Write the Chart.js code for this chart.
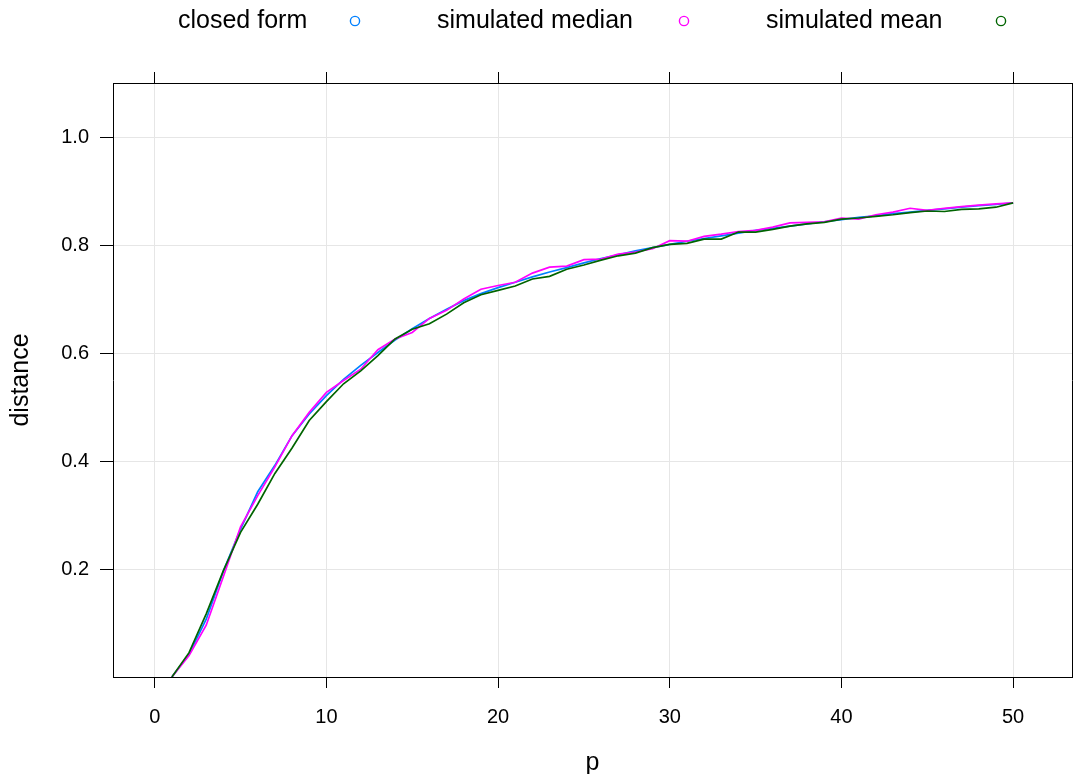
<!DOCTYPE html>
<html>
<head>
<meta charset="utf-8">
<script src="https://cdn.jsdelivr.net/npm/chart.js@4/dist/chart.umd.min.js"></script>
<style>
  html, body { margin: 0; padding: 0; background: #ffffff; overflow: hidden; }
  #wrap { width: 1073px; height: 774px; }
</style>
</head>
<body>
<div id="wrap"><canvas id="c" width="1073" height="774"></canvas></div>
<script>
// number of dimensions
const p = [1,2,3,4,5,6,7,8,9,10,11,12,13,14,15,16,17,18,19,20,
           21,22,23,24,25,26,27,28,29,30,31,32,33,34,35,36,37,38,39,40,
           41,42,43,44,45,46,47,48,49,50];

const closedForm = [0.000,0.042,0.107,0.196,0.274,0.343,0.392,0.447,0.487,0.521,
                    0.551,0.577,0.601,0.624,0.645,0.664,0.681,0.697,0.710,0.721,
                    0.731,0.741,0.750,0.758,0.767,0.775,0.782,0.789,0.795,0.801,
                    0.807,0.812,0.817,0.822,0.827,0.831,0.835,0.839,0.843,0.847,
                    0.851,0.854,0.858,0.861,0.864,0.867,0.870,0.873,0.875,0.878];

const simMedian = [0.000,0.040,0.096,0.186,0.278,0.336,0.389,0.447,0.490,0.527,
                   0.549,0.570,0.606,0.626,0.638,0.664,0.679,0.700,0.718,0.725,
                   0.731,0.748,0.759,0.761,0.773,0.774,0.783,0.787,0.793,0.808,
                   0.807,0.816,0.820,0.825,0.827,0.833,0.841,0.842,0.843,0.850,
                   0.848,0.856,0.861,0.868,0.864,0.868,0.871,0.874,0.876,0.878];

const simMean = [0.000,0.045,0.117,0.197,0.268,0.320,0.377,0.424,0.475,0.510,
                 0.543,0.567,0.595,0.626,0.644,0.654,0.672,0.693,0.708,0.716,
                 0.724,0.737,0.742,0.755,0.763,0.772,0.780,0.785,0.795,0.801,
                 0.803,0.811,0.811,0.824,0.824,0.829,0.835,0.839,0.842,0.848,
                 0.850,0.853,0.856,0.860,0.863,0.862,0.866,0.867,0.870,0.878];

const seriesNames  = ['closed form', 'simulated median', 'simulated mean'];
const seriesValues = [closedForm, simMedian, simMean];
const seriesColors = ['#0080ff', '#ff00ff', '#006400'];

const xTicks = [0, 10, 20, 30, 40, 50];
const yTicks = [0.2, 0.4, 0.6, 0.8, 1.0];
const xLimits = [-2.43, 53.43];
const yLimits = [0, 1.1];

const FONT = '"Liberation Sans", Arial, Helvetica, sans-serif';

const toPoints = vals => vals.map((v, i) => ({ x: p[i], y: v }));
const useTicks = vals => scale => { scale.ticks = vals.map(v => ({ value: v })); };

// key across the top: label text followed by an open circle
const keyPlugin = {
  id: 'topKey',
  afterDraw(chart) {
    const ctx = chart.ctx;
    const textX = [178, 437, 766];
    const symX = [355, 684, 1001];
    const y = 21;
    ctx.save();
    ctx.font = '25px ' + FONT;
    ctx.fillStyle = '#000000';
    ctx.textAlign = 'left';
    ctx.textBaseline = 'middle';
    seriesNames.forEach((name, i) => {
      ctx.fillText(name, textX[i], y);
      ctx.beginPath();
      ctx.arc(symX[i], y, 4.6, 0, Math.PI * 2);
      ctx.strokeStyle = seriesColors[i];
      ctx.lineWidth = 1.4;
      ctx.stroke();
    });
    ctx.restore();
  }
};

const frameSide = (position, size, tickLen) => ({
  type: 'linear',
  position: position,
  display: true,
  grid: { drawOnChartArea: false, drawTicks: true, tickLength: tickLen, tickColor: '#000000', tickWidth: 1 },
  border: { display: true, color: '#000000', width: 1 },
  ticks: { display: false },
  afterFit: s => { if (s.isHorizontal()) s.height = size; else s.width = size; }
});

const datasets = seriesNames.map((name, i) => ({
  label: name,
  data: toPoints(seriesValues[i]),
  borderColor: seriesColors[i],
  backgroundColor: seriesColors[i],
  borderWidth: 1.7,
  pointRadius: 0,
  tension: 0,
  fill: false,
  order: seriesNames.length - i,
  xAxisID: 'x',
  yAxisID: 'y'
}));

new Chart(document.getElementById('c'), {
  type: 'line',
  data: { datasets },
  plugins: [keyPlugin],
  options: {
    responsive: false,
    animation: false,
    devicePixelRatio: 1,
    layout: { padding: 0 },
    plugins: { legend: { display: false }, tooltip: { enabled: false } },
    scales: {
      x: {
        type: 'linear', position: 'bottom',
        min: xLimits[0], max: xLimits[1],
        afterBuildTicks: useTicks(xTicks),
        afterFit: s => { s.height = 97; },
        grid: { color: '#e6e6e6', lineWidth: 1, drawTicks: true, tickLength: 11, tickColor: '#000000', tickWidth: 1 },
        border: { display: true, color: '#000000', width: 1 },
        ticks: { color: '#000000', font: { family: FONT, size: 20 }, padding: 17, maxRotation: 0, autoSkip: false,
                 callback: v => String(v) },
        title: { display: true, text: 'p', color: '#000000', font: { family: FONT, size: 25, lineHeight: 0.9 },
                 padding: { top: 0, bottom: 0 } }
      },
      x2: Object.assign(frameSide('top', 83, 11), {
        min: xLimits[0], max: xLimits[1], afterBuildTicks: useTicks(xTicks)
      }),
      y: {
        type: 'linear', position: 'left',
        min: yLimits[0], max: yLimits[1],
        afterBuildTicks: useTicks(yTicks),
        afterFit: s => { s.width = 113; },
        grid: { color: '#e6e6e6', lineWidth: 1, drawTicks: true, tickLength: 13, tickColor: '#000000', tickWidth: 1 },
        border: { display: true, color: '#000000', width: 1 },
        ticks: { color: '#000000', font: { family: FONT, size: 20 }, padding: 11, autoSkip: false,
                 callback: v => v.toFixed(1) },
        title: { display: true, text: 'distance', color: '#000000', font: { family: FONT, size: 25, lineHeight: 1 },
                 padding: { top: 9, bottom: 0 } }
      },
      y2: Object.assign(frameSide('right', 1, 10), {
        min: yLimits[0], max: yLimits[1], afterBuildTicks: useTicks(yTicks)
      })
    }
  }
});
</script>
</body>
</html>
